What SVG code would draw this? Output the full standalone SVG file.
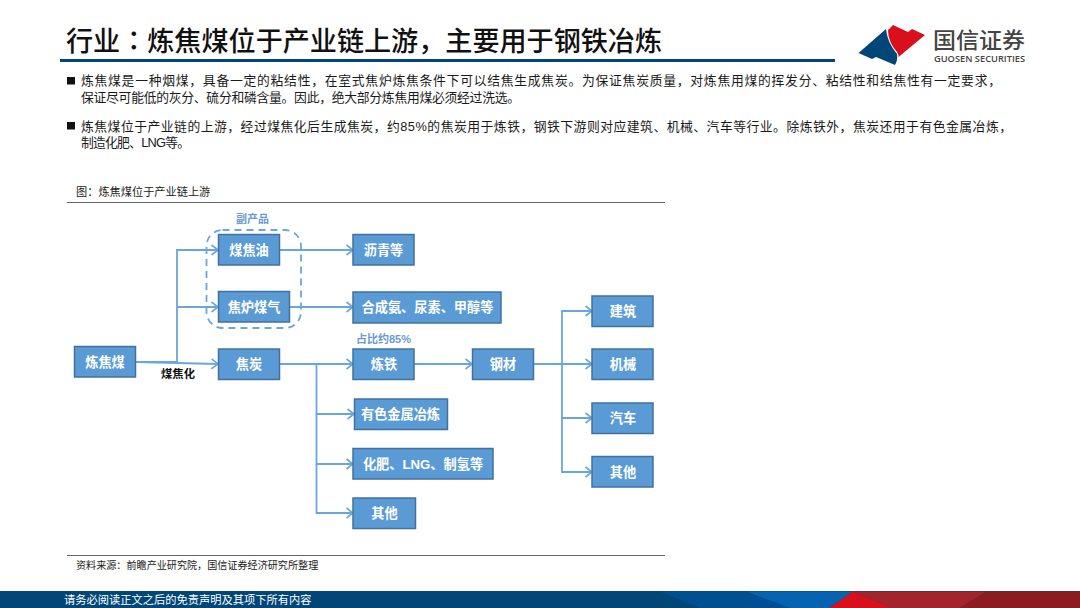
<svg xmlns="http://www.w3.org/2000/svg" width="1080" height="608" viewBox="0 0 1080 608">
<defs>
<marker id="arr" markerUnits="userSpaceOnUse" markerWidth="10" markerHeight="12" refX="8.5" refY="6" orient="auto"><path d="M2 1L8.500 6L2 11" fill="none" stroke="#6BA6DA" stroke-width="1.600"/></marker>
</defs>
<style>
text{font-family:"Liberation Sans","Noto Sans CJK SC",sans-serif}
.n rect{fill:#5B9BD5;stroke:#41719C;stroke-width:1.500}
.n text{fill:#fff;font-size:13.200px;font-weight:700;text-anchor:middle}
.c path{fill:none;stroke:#6BA6DA;stroke-width:1.800}
.a{marker-end:url(#arr)}
.b{font-size:12.800px;fill:#1a1a1a}
.s{font-size:10.100px;fill:#222}
.r{stroke:#666;stroke-width:1;fill:none}
</style>
<rect width="1080" height="608" fill="#fff"/>
<text x="66" y="51" font-size="27.100px" font-weight="500" fill="#111" style="font-family:'Noto Sans CJK SC',sans-serif">行业<tspan style="font-family:'Noto Sans CJK TC',sans-serif">：</tspan>炼焦煤位于产业链上游，主要用于钢铁冶炼</text>
<rect x="60" y="59" width="775" height="3" fill="#004677"/>
<g id="logo">
<path d="M886 29L858.500 53L872 59L876 57L895 65Q898 60 897 54Q887 42 886 29Z" fill="#004677"/>
<path d="M893 25L888 30Q888 42 897 52Q899 55 898.500 57L925 35L912 29L908 32Z" fill="#D7101C"/>
<text x="933" y="48" font-size="21.500px" font-weight="500" fill="#444" textLength="92" lengthAdjust="spacingAndGlyphs" style="font-family:'Noto Sans CJK SC',sans-serif">国信证券</text>
<text x="934" y="62" font-size="8.500px" font-weight="600" fill="#444" textLength="91" lengthAdjust="spacingAndGlyphs" style="font-family:'Open Sans',sans-serif">GUOSEN SECURITIES</text>
</g>
<rect x="67" y="77" width="8" height="7.500" fill="#111"/>
<text class="b" x="81" y="85" textLength="920">炼焦煤是一种烟煤，具备一定的粘结性，在室式焦炉炼焦条件下可以结焦生成焦炭。为保证焦炭质量，对炼焦用煤的挥发分、粘结性和结焦性有一定要求，</text>
<text class="b" x="81" y="101.500" textLength="439">保证尽可能低的灰分、硫分和磷含量。因此，绝大部分炼焦用煤必须经过洗选。</text>
<rect x="67" y="122" width="8" height="7.500" fill="#111"/>
<text class="b" x="81" y="131" textLength="931">炼焦煤位于产业链的上游，经过煤焦化后生成焦炭，约85%的焦炭用于炼铁，钢铁下游则对应建筑、机械、汽车等行业。除炼铁外，焦炭还用于有色金属冶炼，</text>
<text class="b" x="81" y="147" textLength="109">制造化肥、LNG等。</text>
<text x="76" y="196" font-size="11.200px" fill="#222">图：炼焦煤位于产业链上游</text>
<path class="r" d="M67 202.500H665M67 555.500H665"/>
<text class="s" x="76" y="569">资料来源：前瞻产业研究院，国信证券经济研究所整理</text>
<g class="c" id="connectors">
<path class="a" d="M136 362H177V250H218"/>
<path class="a" d="M177 307H218"/>
<path class="a" d="M136 362L218 364"/>
<path class="a" d="M280 250H353"/>
<path class="a" d="M290 307H353"/>
<path class="a" d="M280 364H353"/>
<path class="a" d="M414 364H472"/>
<path class="a" d="M534 364H592"/>
<path class="a" d="M562 364V311H592"/>
<path class="a" d="M562 364V418H592"/>
<path class="a" d="M562 418V472H592"/>
<path class="a" d="M316.500 364V414H354"/>
<path class="a" d="M316.500 414V464H353"/>
<path class="a" d="M316.500 464V513H353"/>
<rect x="206.500" y="230" width="94.500" height="98" rx="16" fill="none" stroke="#6BA6DA" stroke-width="1.800" stroke-dasharray="7 5"/>
</g>
<g class="n" id="n1"><rect x="74.500" y="346.500" width="61" height="30.500"/><text x="105" y="366.500">炼焦煤</text></g>
<g class="n" id="n2"><rect x="218.500" y="234.500" width="61" height="30.500"/><text x="249" y="254.500">煤焦油</text></g>
<g class="n" id="n3"><rect x="218.500" y="291.500" width="71" height="30.500"/><text x="254" y="311.500">焦炉煤气</text></g>
<g class="n" id="n4"><rect x="218.500" y="349" width="61" height="30.500"/><text x="249" y="369">焦炭</text></g>
<g class="n" id="n5"><rect x="353" y="234.500" width="61" height="30.500"/><text x="383.500" y="254.500">沥青等</text></g>
<g class="n" id="n6"><rect x="353" y="292" width="148" height="31"/><text x="427.500" y="312">合成氨、尿素、甲醇等</text></g>
<g class="n" id="n7"><rect x="353" y="349" width="61" height="30.500"/><text x="384" y="369">炼铁</text></g>
<g class="n" id="n8"><rect x="472.500" y="349" width="61" height="30.500"/><text x="503" y="369">钢材</text></g>
<g class="n" id="n9"><rect x="592" y="296" width="61" height="30.500"/><text x="623" y="316">建筑</text></g>
<g class="n" id="n10"><rect x="592" y="349" width="61" height="30.500"/><text x="623" y="369">机械</text></g>
<g class="n" id="n11"><rect x="592" y="403" width="61" height="30.500"/><text x="623" y="423">汽车</text></g>
<g class="n" id="n12"><rect x="592" y="456.500" width="61" height="30.500"/><text x="623" y="476.500">其他</text></g>
<g class="n" id="n13"><rect x="354.500" y="399" width="93" height="30.500"/><text x="400.500" y="419">有色金属冶炼</text></g>
<g class="n" id="n14"><rect x="353" y="448.500" width="140" height="30.500"/><text x="423" y="468.500">化肥、LNG、制氢等</text></g>
<g class="n" id="n15"><rect x="353" y="498" width="62.500" height="30.500"/><text x="384.500" y="518">其他</text></g>
<text x="252.500" y="223" font-size="11px" font-weight="700" fill="#6B9BD0" text-anchor="middle">副产品</text>
<text x="383.500" y="343" font-size="11px" font-weight="700" fill="#6B9BD0" text-anchor="middle">占比约85%</text>
<text x="178" y="378" font-size="11.300px" font-weight="700" fill="#111" text-anchor="middle">煤焦化</text>
<g id="footer">
<rect y="591" width="1080" height="17" fill="#004677"/>
<path d="M660 591.500H746L790 608H700Z" fill="#004F93"/>
<path d="M746 591.500H853L829 608H790Z" fill="#0563B1"/>
<path d="M853 591.500H986L960 608H892Z" fill="#A5242C"/>
<path d="M853 591.500L892 608H829Z" fill="#D7101C"/>
<path d="M986 591.500H1080V608H960Z" fill="#8C1C22"/>
<text x="64" y="604" font-size="11.250px" fill="#fff">请务必阅读正文之后的免责声明及其项下所有内容</text>
</g>
</svg>
